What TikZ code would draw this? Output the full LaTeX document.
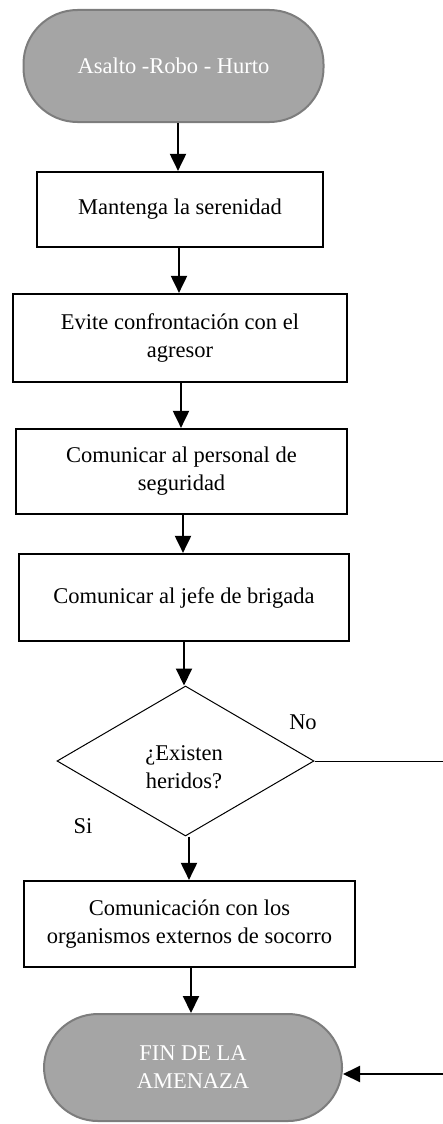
\documentclass[tikz,border=0pt]{standalone}
\usepackage{fontspec}
\setmainfont{Liberation Serif}
\usetikzlibrary{arrows.meta,shapes.geometric}
\definecolor{termfill}{RGB}{165,165,165}
\definecolor{termdraw}{RGB}{125,125,125}
\begin{document}
\begin{tikzpicture}[x=1pt,y=-1pt,
  every node/.style={font=\fontsize{22.5}{28}\selectfont, align=center},
  term/.style={draw=termdraw, fill=termfill, line width=2pt, text=white, rounded corners=54pt, inner sep=0pt},
  stepbox/.style={draw=black, line width=2.2pt, inner sep=0pt},
  decision/.style={draw=black, line width=1pt, diamond, inner sep=0pt, minimum width=257pt, minimum height=150pt},
  arr/.style={line width=2pt, -{Triangle[width=16pt,length=17pt]}},
  plain/.style={font=\fontsize{22.5}{28}\selectfont}
]
\useasboundingbox (0,0) rectangle (443,1124);

\node[term, minimum width=300pt, minimum height=112pt] (t1) at (173.5,66) {Asalto -Robo - Hurto};
\node[stepbox, minimum width=286pt, minimum height=75pt] (b1) at (180,209.5) {Mantenga la serenidad};
\node[stepbox, minimum width=334pt, minimum height=88pt] (b2) at (180,338) {Evite confrontación con el\\agresor};
\node[stepbox, minimum width=331pt, minimum height=85pt] (b3) at (181.5,471.5) {Comunicar al personal de\\seguridad};
\node[stepbox, minimum width=330pt, minimum height=87pt] (b4) at (184,597.5) {Comunicar al jefe de brigada};
\node[decision] (d) at (185.5,761) {};
\node[plain] (dtext) at (184,767) {¿Existen\\heridos?};
\node[stepbox, minimum width=331pt, minimum height=86pt] (b5) at (189.5,924) {Comunicación con los\\organismos externos de socorro};
\node[term, minimum width=298pt, minimum height=107pt] (fin) at (193,1067.5) {FIN DE LA\\AMENAZA};

\node[plain] (no) at (303,722) {No};
\node[plain] (si) at (83,826) {Si};

\coordinate (noend) at (444,761);
\coordinate (retstart) at (444,1074);

\draw[arr] (t1.south -| 178,0) -- (b1.north -| 178,0);
\draw[arr] (b1.south -| 179,0) -- (b2.north -| 179,0);
\draw[arr] (b2.south -| 181,0) -- (b3.north -| 181,0);
\draw[arr] (b3.south -| 183,0) -- (b4.north -| 183,0);
\draw[arr] (b4.south -| 184,0) -- (d.north -| 184,0);
\draw[arr] (d.south -| 189,0) -- (b5.north -| 189,0);
\draw[arr] (b5.south -| 191,0) -- (fin.north -| 191,0);

\draw[line width=1pt] (d.east) -- (noend);
\draw[arr] (retstart) -- (fin.east |- retstart);
\end{tikzpicture}
\end{document}
